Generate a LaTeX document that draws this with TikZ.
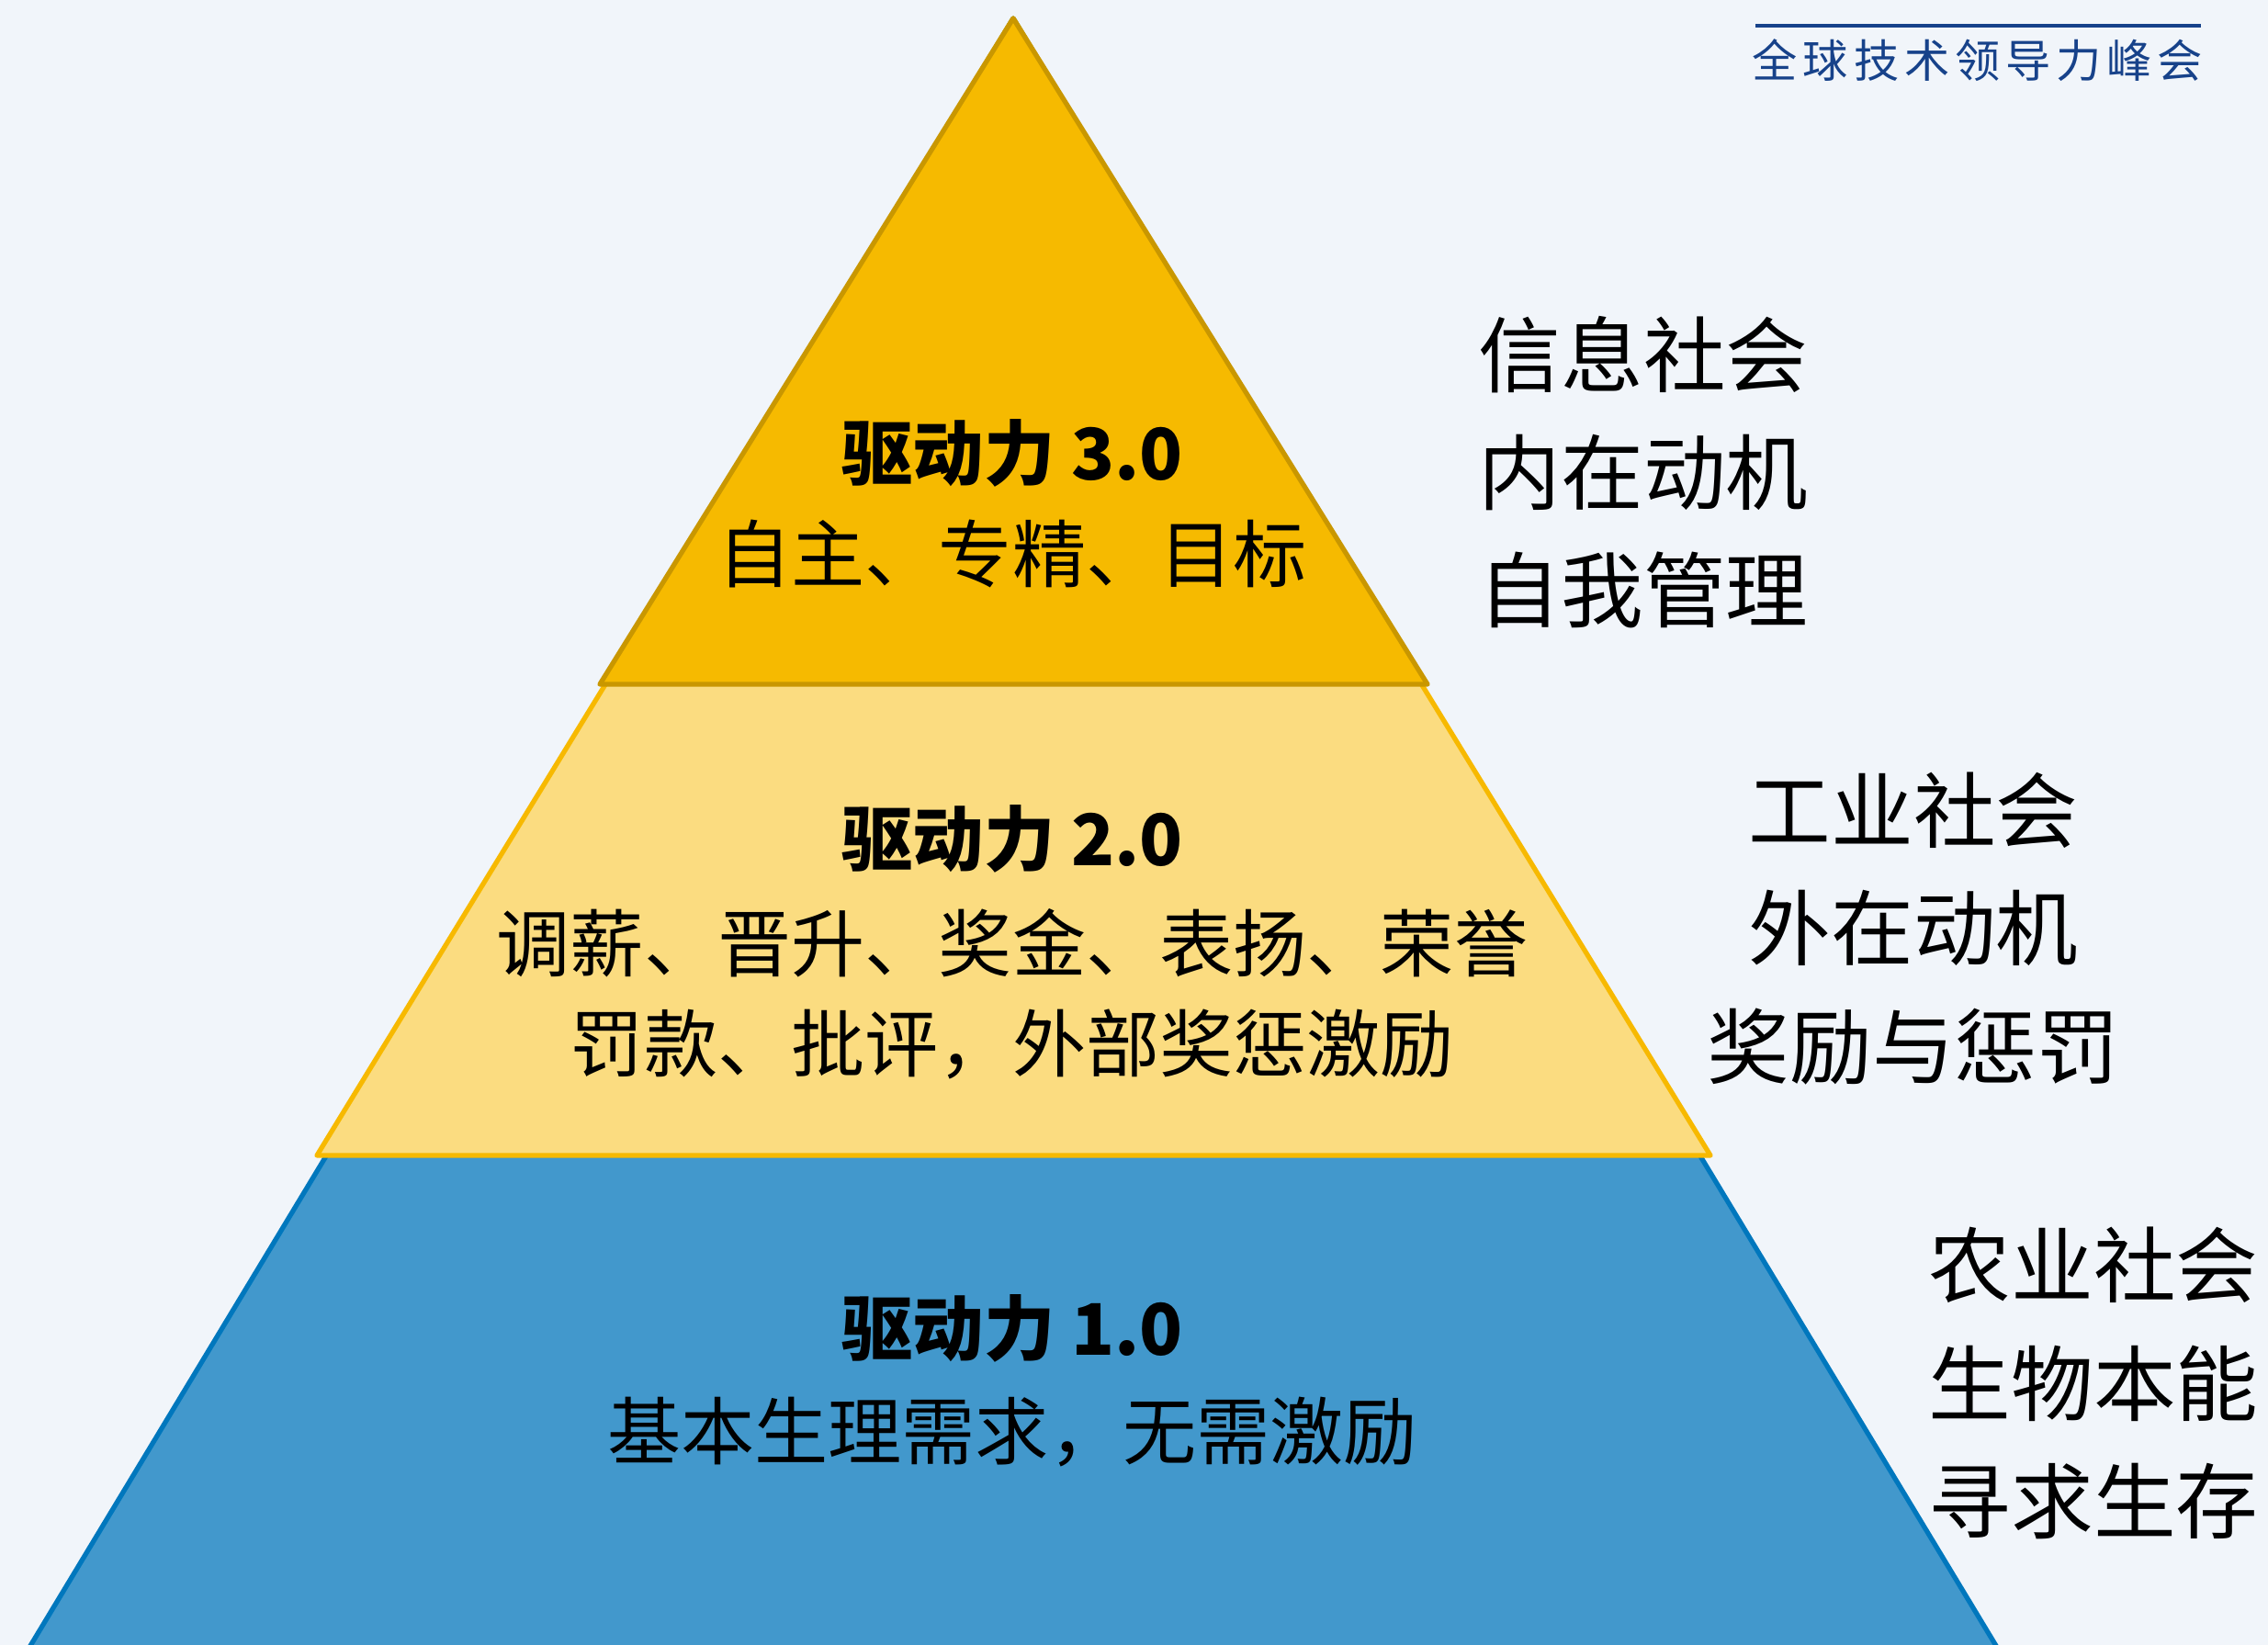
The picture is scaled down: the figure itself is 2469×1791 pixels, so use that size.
\documentclass[tikz,border=0pt]{standalone}
\usepackage{fontspec}
\setmainfont{Noto Sans CJK SC}
\newfontfamily\logofont[LetterSpace=12]{Noto Sans CJK SC}
\definecolor{bgc}{HTML}{F1F5FA}
\definecolor{blfill}{HTML}{4298CC}
\definecolor{bldraw}{HTML}{0077BD}
\definecolor{ltfill}{HTML}{FBDC80}
\definecolor{ltdraw}{HTML}{F7B900}
\definecolor{dkfill}{HTML}{F6BA00}
\definecolor{dkdraw}{HTML}{C99700}
\definecolor{logoc}{HTML}{17428A}
\tikzset{
  tier/.style={line width=1.5pt, line join=round},
  title/.style={font=\fontsize{22}{26}\selectfont\bfseries, inner sep=0pt},
  body/.style={font=\fontsize{22.8}{26}\selectfont, inner sep=0pt, align=center},
  side/.style={font=\fontsize{25.5}{36.5}\selectfont, inner sep=0pt, align=center},
}
\begin{document}
\begin{tikzpicture}[x=0.01cm,y=-0.01cm]
\fill [bgc] (0,0) rectangle (2469,1791);
\useasboundingbox (0,0) rectangle (2469,1791);
%% the three tiers
\begin{scope}
\clip (0,0) rectangle (2469,1791);
\draw [tier, draw=bldraw, fill=blfill] (1103,20) -- (2196,1830) -- (10,1830) -- cycle;
\draw [tier, draw=ltdraw, fill=ltfill] (1103,20) -- (1862,1258) -- (345,1258) -- cycle;
\draw [tier, draw=dkdraw, fill=dkfill] (1103,20) -- (1554,745) -- (653,745) -- cycle;
\end{scope}
%% texts inside
\node [title] (t3) at (1102,493) {驱动力 3.0};
\node [body] (b3) at (1102,603) {自主、专精、目标};
\node [title] (t2) at (1102,913) {驱动力 2.0};
\node [body] (b2) at (1102,1027) {调薪、晋升、奖金、表扬、荣誉};
\node [body] (b2b) at (1102,1137) {罚款、批评，外部奖惩激励};
\node [title] (t1) at (1102,1446) {驱动力 1.0};
\node [body] (b1) at (1102,1559) {基本生理需求，无需激励};
%% texts on the right
\node [side] (s3) at (1789,514) {信息社会\\内在动机\\自我管理};
\node [side] (s2) at (2083,1011) {工业社会\\外在动机\\奖励与惩罚};
\node [side] (s1) at (2279,1506) {农业社会\\生物本能\\寻求生存};
%% logo
\draw [logoc, line width=1.2pt] (1911,28) -- (2396,28);
\node [font=\logofont\fontsize{14}{16}\selectfont, text=logoc, inner sep=0pt] (logo) at (2153,66) {全球技术领导力峰会};
\end{tikzpicture}
\end{document}
